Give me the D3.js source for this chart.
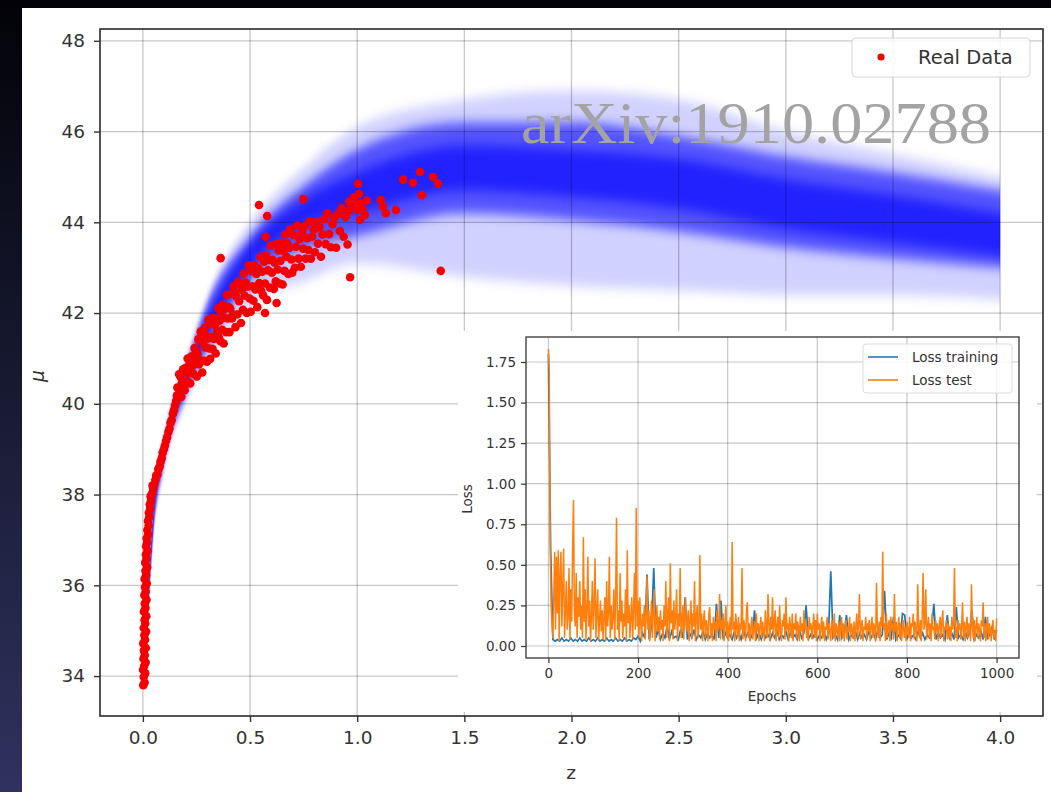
<!DOCTYPE html>
<html>
<head>
<meta charset="utf-8">
<title>mu(z) with loss inset</title>
<script src="https://cdn.jsdelivr.net/npm/d3@7"></script>
<style>
  body { margin: 0; background: #000; }
  svg { display: block; font-family: "DejaVu Sans", sans-serif; }
</style>
</head>
<body>
<svg id="chart" width="1051" height="792"></svg>
<script>
// Real data points, [z, mu]
var realData = [
  // low-z strip
  [0.002,33.80],[0.008,33.86],[0.004,33.98],[0.011,34.06],[0.001,34.14],[0.006,34.22],[0.013,34.30],[0.003,34.38],
  [0.009,34.46],[0.005,34.56],[0.014,34.62],[0.002,34.72],[0.010,34.80],[0.007,34.90],[0.015,34.98],[0.004,35.06],
  [0.011,35.16],[0.008,35.24],[0.016,35.32],[0.005,35.42],[0.012,35.50],[0.009,35.60],[0.017,35.68],[0.007,35.78],
  [0.013,35.86],[0.010,35.96],[0.018,36.04],[0.008,36.14],[0.015,36.22],[0.012,36.32],[0.020,36.40],[0.011,36.50],
  [0.017,36.58],[0.014,36.68],[0.022,36.76],[0.015,36.86],[0.020,36.94],[0.018,37.04],[0.025,37.12],[0.021,37.22],
  [0.027,37.32],[0.024,37.42],[0.030,37.50],[0.028,37.60],[0.034,37.68],[0.032,37.78],[0.038,37.86],[0.036,37.96],
  [0.043,38.02],[0.048,38.12],[0.045,38.20],[0.053,38.22],[0.058,38.32],[0.062,38.42],[0.068,38.44],[0.072,38.56],
  [0.078,38.62],[0.082,38.72],[0.088,38.80],[0.092,38.92],[0.098,39.00],[0.103,39.08],[0.108,39.18],[0.113,39.26],
  [0.119,39.38],[0.124,39.45],[0.129,39.58],[0.134,39.64],[0.140,39.78],[0.145,39.86],[0.150,39.96],[0.155,40.06],
  [0.159,40.18],
  // z 0.16 - 0.25
  [0.161,40.36],[0.164,40.11],[0.169,40.65],[0.171,40.31],[0.176,40.59],[0.179,40.15],[0.182,40.47],[0.188,40.76],
  [0.190,40.40],[0.195,40.30],[0.198,40.79],[0.203,40.70],[0.206,40.49],[0.209,41.00],[0.214,40.68],[0.217,40.87],
  [0.221,40.45],[0.226,41.04],[0.229,40.83],[0.233,41.01],[0.236,40.66],[0.241,41.23],[0.244,40.90],[0.248,41.17],
  // z 0.25 - 0.45
  [0.252,40.60],[0.255,41.09],[0.259,41.42],[0.262,40.87],[0.266,40.96],[0.270,41.59],[0.273,41.44],[0.277,40.69],
  [0.281,41.34],[0.284,40.95],[0.288,41.67],[0.292,41.24],[0.295,41.50],[0.299,40.93],[0.303,41.44],[0.306,41.85],
  [0.310,41.22],[0.314,40.99],[0.317,41.78],[0.321,41.47],[0.325,41.21],[0.328,41.90],[0.332,41.43],[0.336,41.74],
  [0.340,41.11],[0.343,41.86],[0.347,41.59],[0.351,42.11],[0.355,41.46],[0.358,41.83],[0.362,41.38],[0.366,42.03],
  [0.370,41.63],[0.373,42.18],[0.377,41.33],[0.381,41.89],[0.385,42.10],[0.389,41.58],[0.392,42.40],[0.396,41.88],
  [0.400,42.13],[0.404,41.58],[0.408,42.10],[0.412,42.42],[0.416,41.88],[0.420,41.97],[0.424,42.59],[0.428,42.45],
  [0.432,41.69],[0.437,42.36],[0.441,41.97],[0.445,42.69],[0.449,42.26],
  // z 0.45 - 0.70
  [0.453,42.65],[0.458,41.78],[0.462,42.51],[0.467,42.07],[0.471,42.87],[0.476,42.38],[0.480,42.67],[0.485,42.00],
  [0.489,42.58],[0.494,43.05],[0.498,42.32],[0.503,42.03],[0.507,42.93],[0.512,42.59],[0.516,42.27],[0.521,43.06],
  [0.525,42.52],[0.530,42.86],[0.534,42.13],[0.539,42.98],[0.543,42.66],[0.548,43.24],[0.552,42.49],[0.557,42.91],
  [0.561,42.39],[0.566,43.13],[0.570,42.65],[0.575,43.28],[0.579,42.29],[0.584,42.94],[0.588,43.17],[0.593,42.56],
  [0.597,43.49],[0.602,42.89],[0.606,43.17],[0.611,42.53],[0.615,43.11],[0.620,42.70],[0.624,43.52],[0.629,42.96],
  [0.633,43.38],[0.638,42.65],[0.642,43.15],[0.647,43.55],[0.652,42.63],[0.656,43.37],[0.661,42.93],[0.665,43.73],
  [0.670,43.24],[0.674,43.53],[0.679,42.86],[0.684,43.44],[0.688,43.85],[0.693,43.18],[0.697,42.89],
  [0.624,42.22],[0.570,42.00],
  // z 0.70 - 0.97
  [0.703,43.72],[0.709,43.00],[0.714,43.46],[0.720,43.93],[0.726,43.20],[0.731,43.63],[0.737,43.02],[0.743,43.77],
  [0.748,43.42],[0.754,43.91],[0.760,43.20],[0.766,43.65],[0.772,43.39],[0.778,44.02],[0.784,43.20],[0.790,43.68],
  [0.797,43.84],[0.803,43.34],[0.810,44.01],[0.817,43.53],[0.824,43.89],[0.831,43.24],[0.838,43.73],[0.846,44.07],
  [0.853,43.52],[0.861,44.20],[0.869,43.74],[0.877,43.45],[0.885,43.96],[0.893,44.09],[0.902,43.44],[0.910,44.19],
  [0.919,43.81],[0.928,44.31],[0.937,43.68],[0.946,44.12],[0.955,43.51],[0.964,44.27],
  // z > 0.95
  [0.963,44.46],[0.958,44.24],[0.985,44.55],[0.992,44.38],[1.005,44.27],[1.008,44.62],[1.013,44.05],[1.015,44.42],
  [1.025,44.30],[1.036,44.16],[1.045,44.48],[1.110,44.49],[1.120,44.35],[1.134,44.20],[1.181,44.27],[1.214,44.94],
  [1.260,44.87],[1.293,45.11],[1.302,44.60],[1.354,45.00],[1.377,44.85],
  // scattered outliers
  [0.363,43.21],[0.542,44.38],[0.580,44.14],[0.573,43.68],[0.749,44.51],[0.967,42.79],[1.390,42.93],[1.004,44.85]
];

// spread of the predicted mu(z) curves (faint edge, dense edge, core)
var bandZ   = [0.01, 0.05, 0.1,  0.2,  0.3,  0.5,  0.75, 1.0,  1.5,  2.0,  2.5,  3.0,  3.5,  4.0];
var outerLo = [33.9, 37.0, 38.5, 40.0, 40.9, 42.2, 42.7, 43.1, 42.8, 42.6, 42.5, 42.4, 42.4, 42.3];
var outerHi = [34.5, 38.0, 39.4, 41.0, 42.4, 44.0, 45.2, 46.1, 46.7, 46.9, 46.7, 46.0, 45.5, 45.0];
var midLo   = [34.0, 37.2, 38.7, 40.2, 41.2, 42.7, 43.4, 43.7, 44.2, 44.05, 43.8, 43.45, 43.2, 43.0];
var midHi   = [34.4, 37.8, 39.2, 40.8, 42.2, 43.7, 44.8, 45.6, 46.2, 46.2, 45.9, 45.45, 45.1, 44.7];
var coreLo  = [34.1, 37.4, 38.85, 40.4, 41.5, 43.0, 43.9, 44.2, 44.7, 44.55, 44.3, 43.85, 43.55, 43.25];
var coreHi  = [34.3, 37.6, 39.05, 40.6, 41.9, 43.5, 44.5, 45.1, 45.7, 45.6, 45.4, 44.95, 44.6, 44.2];

var zTicks  = [0.0, 0.5, 1.0, 1.5, 2.0, 2.5, 3.0, 3.5, 4.0];
var muTicks = [34, 36, 38, 40, 42, 44, 46, 48];

// inset: training loss every 5 epochs, test loss every 2 epochs
var trainStep = 5;
var lossTrain = [
  1.80,.60,.04,.03,.04,.03,.05,.03,.04,.03,.05,.03,.04,.03,.05,.03,.04,.03,.05,.03,
  .04,.03,.05,.03,.04,.03,.05,.03,.04,.03,.05,.03,.04,.03,.05,.03,.04,.03,.05,.04,
  .06,.03,.08,.05,.44,.04,.12,.48,.05,.10,.04,.08,.05,.12,.04,.09,.05,.06,.04,.10,
  .05,.30,.04,.08,.05,.10,.04,.07,.05,.09,.04,.08,.05,.07,.04,.26,.05,.28,.04,.08,
  .05,.07,.04,.09,.05,.08,.04,.10,.05,.08,.04,.07,.22,.05,.08,.04,.09,.05,.07,.04,
  .08,.05,.10,.04,.07,.05,.09,.04,.08,.05,.07,.04,.10,.05,.08,.25,.04,.07,.05,.08,
  .04,.07,.05,.09,.04,.08,.46,.05,.07,.04,.19,.05,.08,.19,.04,.07,.05,.09,.04,.08,
  .05,.07,.04,.09,.05,.08,.04,.10,.05,.07,.34,.04,.08,.05,.18,.04,.07,.05,.20,.19,
  .04,.08,.05,.07,.04,.09,.05,.08,.04,.07,.05,.10,.26,.04,.08,.05,.07,.04,.19,.05,
  .08,.04,.24,.05,.07,.04,.09,.05,.08,.22,.04,.07,.05,.09,.04,.18,.05,.07,.12,.04,
  .10
];
var testStep = 2;
var lossTest = [
  1.83,1.69,.60,.25,.12,.05,.30,.58,.10,.55,.20,.59,.03,.45,.58,.12,.35,.60,.05,.22,.40,.10,.18,.48,.04,
  .35,.15,.60,.90,.20,.12,.45,.05,.30,.18,.40,.10,.25,.05,.67,.15,.35,.04,.22,.55,.12,.28,.03,.18,.40,
  .10,.25,.54,.05,.20,.35,.03,.15,.28,.09,.22,.04,.18,.30,.03,.40,.12,.20,.55,.05,.25,.10,.18,.35,.04,
  .30,.79,.10,.22,.03,.45,.15,.28,.05,.20,.12,.35,.03,.59,.14,.25,.05,.18,.30,.04,.22,.45,.10,.85,.12,
  .28,.05,.30,.15,.03,.20,.12,.25,.04,.18,.43,.10,.22,.03,.15,.28,.05,.20,.35,.03,.14,.25,.09,.18,.04,
  .22,.10,.16,.03,.25,.12,.40,.05,.18,.30,.03,.51,.14,.22,.04,.28,.10,.18,.35,.03,.20,.12,.48,.05,.15,
  .25,.04,.18,.30,.09,.14,.22,.03,.16,.28,.05,.20,.12,.40,.03,.18,.25,.05,.14,.56,.10,.20,.03,.15,.22,
  .05,.16,.12,.03,.20,.24,.05,.14,.03,.18,.10,.15,.03,.22,.09,.12,.32,.04,.16,.10,.20,.03,.14,.25,.05,
  .15,.03,.12,.18,.05,.64,.10,.15,.03,.20,.12,.05,.18,.03,.14,.10,.48,.04,.16,.12,.03,.22,.27,.05,.14,
  .03,.12,.18,.04,.10,.15,.03,.20,.09,.14,.03,.12,.18,.05,.15,.10,.03,.22,.12,.05,.32,.14,.03,.18,.10,
  .30,.05,.15,.22,.03,.12,.18,.05,.25,.10,.03,.16,.12,.20,.04,.30,.10,.14,.03,.18,.12,.05,.20,.03,.14,
  .10,.20,.04,.15,.12,.03,.18,.09,.14,.03,.22,.10,.16,.05,.12,.03,.18,.10,.14,.04,.12,.20,.05,.16,.03,
  .20,.10,.14,.03,.12,.18,.05,.15,.03,.12,.10,.18,.04,.14,.09,.03,.16,.12,.05,.20,.03,.14,.10,.05,.15,
  .03,.12,.18,.05,.14,.03,.10,.16,.04,.12,.09,.18,.03,.14,.10,.05,.15,.03,.12,.20,.05,.14,.32,.04,.12,
  .16,.03,.12,.10,.18,.04,.14,.09,.16,.03,.12,.18,.05,.14,.10,.03,.39,.12,.05,.15,.03,.18,.12,.58,.10,
  .14,.03,.20,.05,.12,.16,.03,.18,.10,.14,.04,.32,.09,.15,.03,.12,.18,.05,.14,.03,.10,.16,.05,.12,.03,
  .15,.10,.05,.18,.03,.14,.12,.20,.04,.15,.10,.03,.38,.12,.05,.16,.03,.18,.45,.10,.14,.35,.04,.12,.18,
  .05,.14,.03,.20,.10,.12,.04,.16,.09,.14,.03,.12,.18,.05,.15,.22,.03,.12,.10,.16,.04,.14,.05,.12,.03,
  .18,.10,.14,.48,.05,.12,.03,.16,.10,.14,.04,.12,.27,.05,.15,.03,.12,.18,.05,.14,.10,.03,.38,.12,.05,
  .16,.03,.12,.18,.05,.14,.10,.03,.16,.12,.27,.05,.14,.03,.12,.18,.04,.14,.10,.03,.12,.16,.05,.10,.03,
  .17
];
var epochTicks = [0, 200, 400, 600, 800, 1000];
var lossTicks  = [0, 0.25, 0.5, 0.75, 1.0, 1.25, 1.5, 1.75];

var svg = d3.select("#chart");
var defs = svg.append("defs");

// dark frame of the screenshot
var frame = defs.append("linearGradient").attr("id", "frame")
  .attr("x1", 0).attr("y1", 0).attr("x2", 0).attr("y2", 1);
frame.append("stop").attr("offset", "0%").attr("stop-color", "#020207");
frame.append("stop").attr("offset", "100%").attr("stop-color", "#2f325e");
svg.append("rect").attr("width", 1051).attr("height", 792).attr("fill", "url(#frame)");
svg.append("rect").attr("x", 22).attr("y", 8).attr("width", 1029).attr("height", 784).attr("fill", "#fff");

var soft = defs.append("filter").attr("id", "vblur")
  .attr("filterUnits", "userSpaceOnUse")
  .attr("x", 0).attr("y", 0).attr("width", 1051).attr("height", 792);
soft.append("feGaussianBlur").attr("stdDeviation", "0 6");

defs.append("clipPath").attr("id", "mainClip").append("rect")
  .attr("x", 100).attr("y", 29).attr("width", 943).attr("height", 687);
defs.append("clipPath").attr("id", "insetClip").append("rect")
  .attr("x", 526).attr("y", 337).attr("width", 493).attr("height", 321);

// ---------- main axes ----------
var x = d3.scaleLinear().domain([-0.2, 4.2]).range([100, 1043]);
var y = d3.scaleLinear().domain([33.12, 48.26]).range([716, 29]);

var plot = svg.append("g").attr("clip-path", "url(#mainClip)");

var bandG = plot.append("g").attr("filter", "url(#vblur)");
function band(lo, hi, op) {
  var area = d3.area()
    .x(function (d, i) { return x(bandZ[i]); })
    .y0(function (d, i) { return y(lo[i]); })
    .y1(function (d, i) { return y(hi[i]); })
    .curve(d3.curveMonotoneX);
  bandG.append("path").attr("d", area(bandZ))
    .attr("fill", "#0000ff").attr("fill-opacity", op);
}
band(outerLo, outerHi, 0.18);
band(midLo, midHi, 0.6);
band(coreLo, coreHi, 0.6);

// grid
plot.selectAll(".gx").data(zTicks).enter().append("line")
  .attr("x1", function (d) { return x(d); }).attr("x2", function (d) { return x(d); })
  .attr("y1", 29).attr("y2", 716)
  .attr("stroke", "#000").attr("stroke-opacity", 0.22).attr("stroke-width", 1.3);
plot.selectAll(".gy").data(muTicks).enter().append("line")
  .attr("y1", function (d) { return y(d); }).attr("y2", function (d) { return y(d); })
  .attr("x1", 100).attr("x2", 1043)
  .attr("stroke", "#000").attr("stroke-opacity", 0.22).attr("stroke-width", 1.3);

plot.selectAll("circle").data(realData).enter().append("circle")
  .attr("cx", function (d) { return x(d[0]); })
  .attr("cy", function (d) { return y(d[1]); })
  .attr("r", 4.3)
  .attr("fill", "#f50000");

// watermark
svg.append("text")
  .attr("x", 521).attr("y", 143)
  .attr("textLength", 470).attr("lengthAdjust", "spacingAndGlyphs")
  .attr("font-family", "'Liberation Serif', 'DejaVu Serif', serif")
  .attr("font-size", 60)
  .attr("fill", "#a3a3a3")
  .text("arXiv:1910.02788");

svg.append("rect").attr("x", 100).attr("y", 29).attr("width", 943).attr("height", 687)
  .attr("fill", "none").attr("stroke", "#2a2a2a").attr("stroke-width", 1.6);

var xAxis = svg.append("g").attr("transform", "translate(0,716)")
  .call(d3.axisBottom(x).tickValues(zTicks).tickFormat(d3.format(".1f")).tickSize(6).tickPadding(9));
var yAxis = svg.append("g").attr("transform", "translate(100,0)")
  .call(d3.axisLeft(y).tickValues(muTicks).tickSize(6).tickPadding(9));
[xAxis, yAxis].forEach(function (g) {
  g.select(".domain").remove();
  g.selectAll("line").attr("stroke", "#333").attr("stroke-width", 1.4);
  g.selectAll("text").attr("fill", "#333").attr("font-size", 18.5)
    .attr("font-family", "'DejaVu Sans', sans-serif");
});

svg.append("text").attr("x", 571).attr("y", 779).attr("text-anchor", "middle")
  .attr("font-size", 18.5).attr("fill", "#333").text("z");
svg.append("text").attr("transform", "translate(44,376) rotate(-90)").attr("text-anchor", "middle")
  .attr("font-size", 18.5).attr("font-style", "italic").attr("fill", "#333").text("μ");

// legend
svg.append("rect").attr("x", 852).attr("y", 38).attr("width", 178).attr("height", 39).attr("rx", 4)
  .attr("fill", "#fff").attr("fill-opacity", 0.85).attr("stroke", "#d6d6d6");
svg.append("circle").attr("cx", 881).attr("cy", 57).attr("r", 3.6).attr("fill", "#f50000");
svg.append("text").attr("x", 918).attr("y", 64).attr("font-size", 19.5).attr("fill", "#333").text("Real Data");

// ---------- inset ----------
svg.append("rect").attr("x", 458).attr("y", 331).attr("width", 579).attr("height", 381).attr("fill", "#fff");

var xi = d3.scaleLinear().domain([-50, 1050]).range([526, 1019]);
var yi = d3.scaleLinear().domain([-0.074, 1.904]).range([658, 337]);

var inset = svg.append("g").attr("clip-path", "url(#insetClip)");
inset.selectAll(".gx").data(epochTicks).enter().append("line")
  .attr("x1", function (d) { return xi(d); }).attr("x2", function (d) { return xi(d); })
  .attr("y1", 337).attr("y2", 658)
  .attr("stroke", "#000").attr("stroke-opacity", 0.22).attr("stroke-width", 1.2);
inset.selectAll(".gy").data(lossTicks).enter().append("line")
  .attr("y1", function (d) { return yi(d); }).attr("y2", function (d) { return yi(d); })
  .attr("x1", 526).attr("x2", 1019)
  .attr("stroke", "#000").attr("stroke-opacity", 0.22).attr("stroke-width", 1.2);

function lossLine(step) {
  return d3.line()
    .x(function (d, i) { return xi(i * step); })
    .y(function (d) { return yi(d); });
}
inset.append("path").attr("d", lossLine(trainStep)(lossTrain))
  .attr("fill", "none").attr("stroke", "#1f77b4").attr("stroke-width", 1.7);
inset.append("path").attr("d", lossLine(testStep)(lossTest))
  .attr("fill", "none").attr("stroke", "#ff7f0e").attr("stroke-width", 1.5);

svg.append("rect").attr("x", 526).attr("y", 337).attr("width", 493).attr("height", 321)
  .attr("fill", "none").attr("stroke", "#333").attr("stroke-width", 1.3);

var xiAxis = svg.append("g").attr("transform", "translate(0,658)")
  .call(d3.axisBottom(xi).tickValues(epochTicks).tickFormat(d3.format("d")).tickSize(5).tickPadding(5));
var yiAxis = svg.append("g").attr("transform", "translate(526,0)")
  .call(d3.axisLeft(yi).tickValues(lossTicks).tickFormat(d3.format(".2f")).tickSize(5).tickPadding(5));
[xiAxis, yiAxis].forEach(function (g) {
  g.select(".domain").remove();
  g.selectAll("line").attr("stroke", "#333").attr("stroke-width", 1.2);
  g.selectAll("text").attr("fill", "#333").attr("font-size", 13.5)
    .attr("font-family", "'DejaVu Sans', sans-serif");
});

svg.append("text").attr("x", 772).attr("y", 701).attr("text-anchor", "middle")
  .attr("font-size", 13.5).attr("fill", "#333").text("Epochs");
svg.append("text").attr("transform", "translate(472,499) rotate(-90)").attr("text-anchor", "middle")
  .attr("font-size", 13.5).attr("fill", "#333").text("Loss");

// inset legend
svg.append("rect").attr("x", 863).attr("y", 344).attr("width", 149).attr("height", 49).attr("rx", 3)
  .attr("fill", "#fff").attr("fill-opacity", 0.85).attr("stroke", "#dcdcdc");
var legItems = [["Loss training", "#1f77b4"], ["Loss test", "#ff7f0e"]];
legItems.forEach(function (d, i) {
  var ly = 357 + i * 23;
  svg.append("line").attr("x1", 868).attr("x2", 898).attr("y1", ly).attr("y2", ly)
    .attr("stroke", d[1]).attr("stroke-width", 1.6);
  svg.append("text").attr("x", 912).attr("y", ly + 5).attr("font-size", 13.5).attr("fill", "#333").text(d[0]);
});
</script>
</body>
</html>
